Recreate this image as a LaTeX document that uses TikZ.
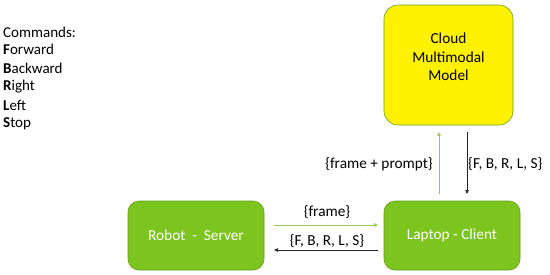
\documentclass[tikz,border=0pt]{standalone}
\usepackage{fontspec}
\setmainfont{Carlito}
\usetikzlibrary{arrows.meta}
\definecolor{boxgreen}{RGB}{124,196,30}
\definecolor{edgegreen}{RGB}{100,160,30}
\definecolor{arrgreen}{RGB}{150,205,80}
\tikzset{
  gbox/.style={draw=edgegreen, fill=boxgreen, rounded corners=11pt, line width=0.6pt, text=white, font=\fontsize{15.3}{18}\selectfont},
  ybox/.style={draw=edgegreen, fill=yellow, rounded corners=14pt, line width=0.6pt},
  ytext/.style={align=center, font=\fontsize{15.3}{18.5}\selectfont, yshift=8pt},
  garrow/.style={draw=arrgreen, line width=0.7pt, -{Triangle[length=4pt,width=3.5pt]}},
  karrow/.style={draw=black!85, line width=0.7pt, -{Triangle[length=4pt,width=3.5pt]}},
  lbl/.style={font=\fontsize{15.3}{18}\selectfont, inner sep=0pt},
  cmd/.style={anchor=west, font=\fontsize{15}{18}\selectfont, inner sep=0pt}
}
\begin{document}
\begin{tikzpicture}[x=1pt,y=-1pt]
\useasboundingbox (0,0) rectangle (550,274);
% boxes
\node[ybox, minimum width=129pt, minimum height=120pt,
  label={[ytext]center:Cloud\\Multimodal\\Model}] (cloud) at (448.5,65) {};
\node[gbox, minimum width=136pt, minimum height=69pt] (robot) at (196,235.5) {Robot\ \ -\ \ Server};
\node[gbox, minimum width=136pt, minimum height=69pt] (laptop) at (452,235.5) {Laptop - Client};
% connector endpoints
\coordinate (fs) at (274,225);
\coordinate (fe) at (378,225);
\coordinate (cs) at (378,250);
\coordinate (ce) at (274,250);
\coordinate (us) at (439,194);
\coordinate (ue) at (439,132);
\coordinate (ds) at (467,132);
\coordinate (de) at (467,194);
\draw[garrow] (fs) -- (fe);
\draw[karrow] (cs) -- (ce);
\draw[garrow] (us) -- (ue);
\draw[karrow] (ds) -- (de);
% labels
\node[lbl] (lframe) at (327,212) {\{frame\}};
\node[lbl] (lcmd) at (327,241.5) {\{F, B, R, L, S\}};
\node[lbl, anchor=east] (lfp) at (433,164) {\{frame + prompt\}};
\node[lbl, anchor=west] (lcmd2) at (468,164) {\{F, B, R, L, S\}};
% commands list
\node[cmd] (c0) at (3,32) {Commands:};
\node[cmd] (c1) at (3,49.5) {\textbf{F}orward};
\node[cmd] (c2) at (3,68) {\textbf{B}ackward};
\node[cmd] (c3) at (3,86.5) {\textbf{R}ight};
\node[cmd] (c4) at (3,105) {\textbf{L}eft};
\node[cmd] (c5) at (3,123.5) {\textbf{S}top};
\end{tikzpicture}
\end{document}
